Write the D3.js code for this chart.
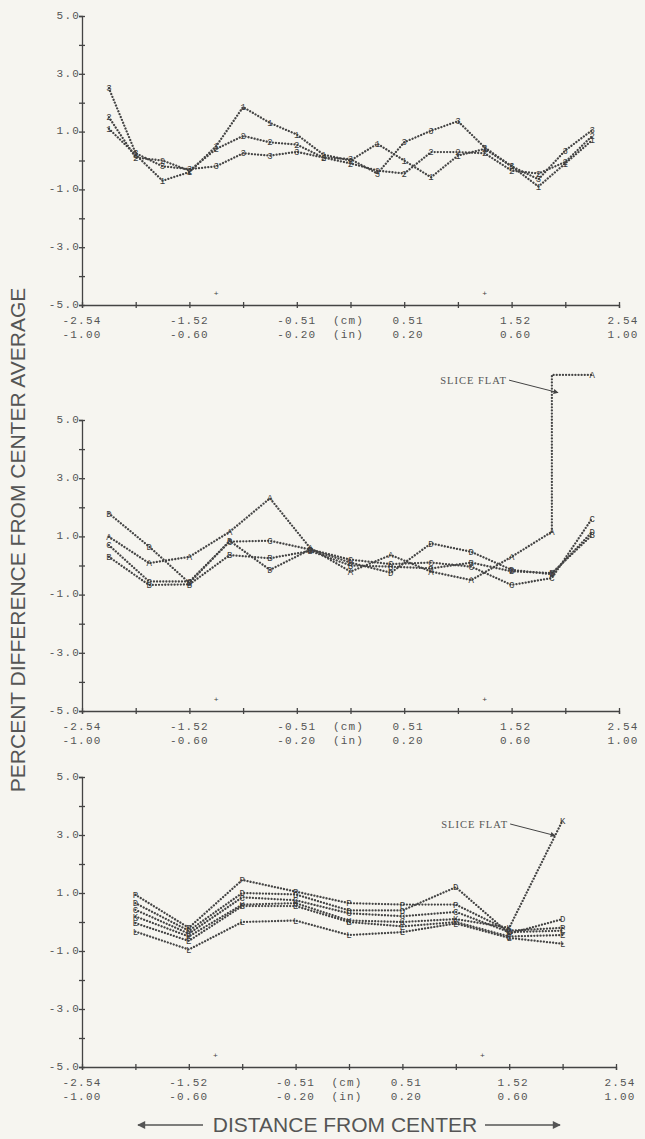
<!DOCTYPE html>
<html>
<head>
<meta charset="utf-8">
<script src="https://cdn.jsdelivr.net/npm/d3@7"></script>
<style>
  html, body { margin: 0; padding: 0; background: #f6f5f0; }
  svg { display: block; }
</style>
</head>
<body>
<div id="chart"></div>
<script>
// axis values (x in inches, y in percent)
const xTicks = [-1, -0.8, -0.6, -0.4, -0.2, 0, 0.2, 0.4, 0.6, 0.8, 1];
const xLabelAt = [-1, -0.6, -0.2, 0.2, 0.6, 1];
const cmLabels = ["-2.54", "-1.52", "-0.51", "0.51", "1.52", "2.54"];
const inLabels = ["-1.00", "-0.60", "-0.20", "0.20", "0.60", "1.00"];
const yTicks = [-5, -4, -3, -2, -1, 0, 1, 2, 3, 4, 5];
const yLabelAt = [5, 3, 1, -1, -3, -5];
const yLabels = ["5.0", "3.0", "1.0", "-1.0", "-3.0", "-5.0"];
const centerMarks = [-0.5, 0.5];

// top panel: 19 positions, series 1..3
const topX = [-0.9, -0.8, -0.7, -0.6, -0.5, -0.4, -0.3, -0.2, -0.1, 0, 0.1, 0.2, 0.3, 0.4, 0.5, 0.6, 0.7, 0.8, 0.9];
const top1 = [1.1, 0.2, -0.7, -0.4, 0.5, 1.85, 1.3, 0.9, 0.2, 0.0, 0.58, 0.0, -0.58, 0.17, 0.4, -0.2, -0.9, -0.1, 0.7];
const top2 = [1.5, 0.1, 0.0, -0.35, 0.4, 0.85, 0.63, 0.55, 0.1, -0.1, -0.35, -0.45, 0.29, 0.29, 0.25, -0.35, -0.45, -0.05, 0.85];
const top3 = [2.5, 0.25, -0.2, -0.3, -0.2, 0.25, 0.17, 0.3, 0.1, 0.05, -0.45, 0.63, 1.03, 1.36, 0.45, -0.2, -0.65, 0.35, 1.05];

// middle panel: 13 positions, series A..D
const midX = [-0.9, -0.75, -0.6, -0.45, -0.3, -0.15, 0, 0.15, 0.3, 0.45, 0.6, 0.75, 0.9];
const midA = [0.99, 0.08, 0.3, 1.16, 2.31, 0.6, -0.21, 0.36, -0.21, -0.5, 0.3, 1.16, 6.55];
const midB = [0.3, -0.67, -0.65, 0.36, 0.25, 0.5, 0.0, -0.04, -0.1, 0.1, -0.2, -0.26, 1.05];
const midC = [0.7, -0.55, -0.55, 0.82, 0.85, 0.55, 0.2, 0.05, 0.1, -0.04, -0.67, -0.43, 1.62];
const midD = [1.79, 0.65, -0.6, 0.85, -0.15, 0.55, 0.1, -0.25, 0.76, 0.47, -0.15, -0.3, 1.16];

// bottom panel: 9 positions, six series
const botX = [-0.8, -0.6, -0.4, -0.2, 0, 0.2, 0.4, 0.6, 0.8];
const botP = [0.94, -0.2, 1.45, 1.05, 0.65, 0.6, 0.6, -0.3, -0.2];
const botD = [0.65, -0.3, 1.0, 0.95, 0.4, 0.4, 1.2, -0.4, 0.1];
const botC = [0.42, -0.4, 0.85, 0.75, 0.3, 0.2, 0.35, -0.35, -0.3];
const botK = [0.19, -0.5, 0.6, 0.65, 0.05, 0.0, 0.1, -0.2, 3.5];
const botE = [-0.04, -0.65, 0.55, 0.55, 0.0, -0.15, 0.0, -0.5, -0.45];
const botL = [-0.33, -0.95, 0.0, 0.05, -0.45, -0.35, -0.05, -0.55, -0.75];

const panels = [
    {x0: 82, x1: 619, yTop: 16, yBottom: 305, xs: topX, stepLast: false,
     series: [{label: "1", values: top1}, {label: "2", values: top2}, {label: "3", values: top3}]},
    {x0: 82, x1: 619, yTop: 420, yBottom: 711, xs: midX, stepLast: true,
     series: [{label: "A", values: midA}, {label: "B", values: midB}, {label: "C", values: midC}, {label: "D", values: midD}],
     note: {text: "SLICE FLAT", tx: 0.583, tv: 6.37, ax: 0.773, av: 5.94}},
    {x0: 82, x1: 616, yTop: 777, yBottom: 1067, xs: botX, stepLast: false,
     series: [{label: "P", values: botP}, {label: "D", values: botD}, {label: "C", values: botC},
              {label: "K", values: botK}, {label: "E", values: botE}, {label: "L", values: botL}],
     note: {text: "SLICE FLAT", tx: 0.596, tv: 3.38, ax: 0.772, av: 2.98}}
];

const width = 645, height = 1139;
const ink = "#444";
const mono = "'Liberation Mono', 'DejaVu Sans Mono', monospace";

const svg = d3.select("#chart").append("svg")
    .attr("width", width)
    .attr("height", height);

const defs = svg.append("defs");
defs.append("marker")
    .attr("id", "head")
    .attr("viewBox", "0 0 10 10")
    .attr("refX", 9).attr("refY", 5)
    .attr("markerWidth", 7).attr("markerHeight", 5)
    .attr("markerUnits", "userSpaceOnUse")
    .attr("orient", "auto")
  .append("path")
    .attr("d", "M0,0L10,5L0,10z")
    .attr("fill", ink);
defs.append("marker")
    .attr("id", "bighead")
    .attr("viewBox", "0 0 10 10")
    .attr("refX", 9).attr("refY", 5)
    .attr("markerWidth", 14).attr("markerHeight", 8)
    .attr("markerUnits", "userSpaceOnUse")
    .attr("orient", "auto")
  .append("path")
    .attr("d", "M0,0L10,5L0,10z")
    .attr("fill", "#555");

panels.forEach(p => {
    const x = d3.scaleLinear().domain([-1, 1]).range([p.x0, p.x1]);
    const y = d3.scaleLinear().domain([-5, 5]).range([p.yBottom, p.yTop]);
    const g = svg.append("g");

    // y axis
    const ya = g.append("g")
        .attr("transform", `translate(${p.x0},0)`)
        .call(d3.axisLeft(y).tickValues(yTicks).tickSize(3).tickFormat(""));
    ya.selectAll(".tick line").attr("x1", 3);
    ya.selectAll("line, path").attr("stroke", ink).attr("stroke-width", 1.3);

    g.selectAll(".ylab")
        .data(yLabelAt)
        .join("text")
        .attr("x", p.x0 - 2)
        .attr("y", d => y(d) - 1)
        .attr("dy", "0.35em")
        .attr("text-anchor", "end")
        .style("font-family", mono)
        .style("font-size", "11px")
        .style("letter-spacing", "1.2px")
        .attr("fill", "#555")
        .text((d, i) => yLabels[i]);

    // x axis
    const xa = g.append("g")
        .attr("transform", `translate(0,${p.yBottom})`)
        .call(d3.axisBottom(x).tickValues(xTicks).tickSize(3).tickFormat(""));
    xa.selectAll(".tick line").attr("y1", -3);
    xa.selectAll("line, path").attr("stroke", ink).attr("stroke-width", 1.3);

    const rows = [cmLabels, inLabels];
    rows.forEach((labels, r) => {
        g.selectAll(`.xlab${r}`)
            .data(xLabelAt)
            .join("text")
            .attr("x", d => x(d) + (d > 0 ? 4 : 0))
            .attr("y", p.yBottom + 15 + r * 14)
            .attr("dy", "0.35em")
            .attr("text-anchor", "middle")
            .style("font-family", mono)
            .style("font-size", "11px")
            .style("letter-spacing", "1.2px")
            .attr("fill", "#555")
            .text((d, i) => labels[i]);
    });
    ["(cm)", "(in)"].forEach((t, r) => {
        g.append("text")
            .attr("x", x(0) - 2)
            .attr("y", p.yBottom + 15 + r * 14)
            .attr("dy", "0.35em")
            .attr("text-anchor", "middle")
            .style("font-family", mono)
            .style("font-size", "11px")
            .style("letter-spacing", "1.2px")
            .attr("fill", "#555")
            .text(t);
    });

    // small centre marks
    g.selectAll(".cmark")
        .data(centerMarks)
        .join("text")
        .attr("x", d => x(d))
        .attr("y", y(-4.6))
        .attr("dy", "0.35em")
        .attr("text-anchor", "middle")
        .style("font-family", mono)
        .style("font-size", "8px")
        .attr("fill", ink)
        .text("+");

    // dotted lines
    const line = d3.line()
        .x(d => x(d[0]))
        .y(d => y(d[1]));
    const stepLine = d3.line()
        .x(d => x(d[0]))
        .y(d => y(d[1]))
        .curve(d3.curveStepBefore);

    p.series.forEach(s => {
        const pts = p.xs.map((xv, i) => [xv, s.values[i]]);
        const jump = p.stepLast && s.values[s.values.length - 1] > 5;
        const main = jump ? pts.slice(0, -1) : pts;
        const dotted = sel => sel
            .attr("fill", "none")
            .attr("stroke", ink)
            .attr("stroke-width", 2.3)
            .attr("stroke-linecap", "round")
            .attr("stroke-dasharray", "0.01,3.1");
        g.append("path").attr("d", line(main)).call(dotted);
        if (jump) {
            g.append("path").attr("d", stepLine(pts.slice(-2))).call(dotted);
        }
        g.selectAll(null)
            .data(pts)
            .join("text")
            .attr("x", d => x(d[0]))
            .attr("y", d => y(d[1]))
            .attr("dy", "0.35em")
            .attr("text-anchor", "middle")
            .style("font-family", mono)
            .style("font-size", "9px")
            .attr("fill", "#3a3a3a")
            .text(s.label);
    });

    // annotation
    if (p.note) {
        const n = p.note;
        g.append("text")
            .attr("x", x(n.tx))
            .attr("y", y(n.tv))
            .attr("dy", "0.35em")
            .attr("text-anchor", "end")
            .style("font-family", "'Liberation Serif', 'DejaVu Serif', serif")
            .style("font-size", "10.5px")
            .style("letter-spacing", "1px")
            .attr("fill", "#555")
            .text(n.text);
        g.append("line")
            .attr("x1", x(n.tx) + 2).attr("y1", y(n.tv))
            .attr("x2", x(n.ax)).attr("y2", y(n.av))
            .attr("stroke", ink)
            .attr("stroke-width", 1)
            .attr("marker-end", "url(#head)");
    }
});

// axis titles
svg.append("text")
    .attr("transform", "translate(18,540) rotate(-90)")
    .attr("dy", "0.35em")
    .attr("text-anchor", "middle")
    .style("font-family", "'Liberation Sans', Arial, sans-serif")
    .style("font-size", "21px")
    .attr("fill", "#555")
    .text("PERCENT DIFFERENCE FROM CENTER AVERAGE");

svg.append("text")
    .attr("x", 345)
    .attr("y", 1125)
    .attr("dy", "0.35em")
    .attr("text-anchor", "middle")
    .style("font-family", "'Liberation Sans', Arial, sans-serif")
    .style("font-size", "21px")
    .attr("fill", "#555")
    .text("DISTANCE FROM CENTER");

[[203, 138], [485, 560]].forEach(a => {
    svg.append("line")
        .attr("x1", a[0]).attr("y1", 1125)
        .attr("x2", a[1]).attr("y2", 1125)
        .attr("stroke", "#555")
        .attr("stroke-width", 1.5)
        .attr("marker-end", "url(#bighead)");
});
</script>
</body>
</html>
